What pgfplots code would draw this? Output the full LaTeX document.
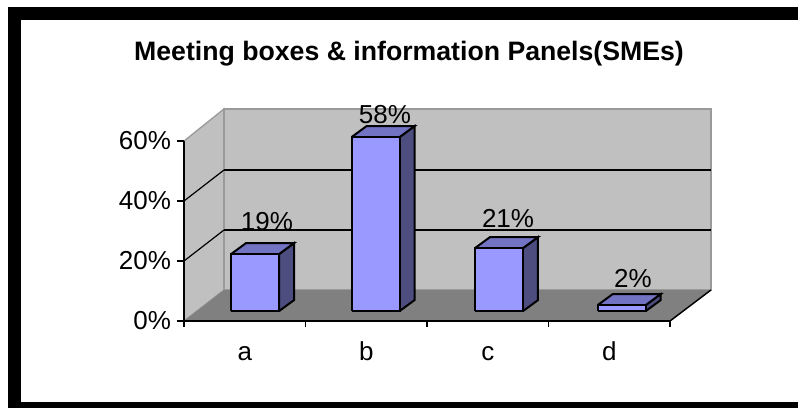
\documentclass[border=0pt]{standalone}
\usepackage{pgfplots}
\pgfplotsset{compat=1.18}
\usepackage{fontspec}
\setmainfont{Liberation Sans}

\definecolor{wallgray}{HTML}{C0C0C0}
\definecolor{wallline}{HTML}{9A9A9A}
\definecolor{floorgray}{HTML}{808080}
\definecolor{barfront}{HTML}{9999FF}
\definecolor{bartop}{HTML}{7373C4}
\definecolor{barside}{HTML}{4D4D80}

% One canvas unit is 0.75pt; x data: 121.5 units per category, y data: 3 units per percent
\def\pxu{0.75pt}

% Column in cabinet projection: left edge of the front face and its value
\newcommand{\threedbar}[2]{%
  \pgfmathsetmacro{\xa}{#1}%
  \pgfmathsetmacro{\xb}{#1+0.395}%
  \pgfmathsetmacro{\xc}{#1+0.395+0.1235}%
  \pgfmathsetmacro{\xd}{#1+0.1235}%
  \pgfmathsetmacro{\ya}{3.3}%
  \pgfmathsetmacro{\yb}{3.3+#2}%
  \pgfmathsetmacro{\yc}{3.3+#2+3.67}%
  \pgfmathsetmacro{\ye}{3.3+3.67}%
  \edef\barfaces{%
    \noexpand\addplot[draw=black,line width=1.5pt,fill=barside,line join=miter] coordinates {(\xb,\ya) (\xb,\yb) (\xc,\yc) (\xc,\ye) (\xb,\ya)};
    \noexpand\addplot[draw=black,line width=1.5pt,fill=bartop,line join=miter] coordinates {(\xa,\yb) (\xb,\yb) (\xc,\yc) (\xd,\yc) (\xa,\yb)};
    \noexpand\addplot[draw=black,line width=1.5pt,fill=barfront,line join=miter] coordinates {(\xa,\ya) (\xb,\ya) (\xb,\yb) (\xa,\yb) (\xa,\ya)};
  }%
  \barfaces
}

\begin{document}
\begin{tikzpicture}[x=\pxu,y=\pxu]
  % Outer margin, black frame and white chart area
  \fill[white] (0,0) rectangle (798,408);
  \fill[black] (8,0) rectangle (798,401);
  \fill[white] (21,6) rectangle (798,388);

  \node[font=\bfseries\fontsize{20}{22}\selectfont] at (409,354) {Meeting boxes \& information Panels(SMEs)};

  \begin{axis}[
    at={(184*\pxu,87*\pxu)}, anchor=south west,
    scale only axis,
    width=486*\pxu, height=180*\pxu,
    xmin=0, xmax=4, ymin=0, ymax=60,
    clip=false,
    axis on top=true,
    axis x line=bottom, axis y line=left,
    axis line style={-,line width=1.3pt,black},
    xtick={0.5,1.5,2.5,3.5},
    xticklabels={a,b,c,d},
    minor xtick={0,1,2,3,4},
    ytick={0,20,40,60},
    yticklabels={0\%,20\%,40\%,60\%},
    tick align=outside,
    major tick length=5.25pt,
    minor tick length=4.5pt,
    major x tick style={draw=none},
    every tick/.append style={line width=1.3pt,black},
    tick label style={font=\fontsize{19.5}{21}\selectfont},
    yticklabel style={xshift=-1pt},
    xticklabel style={yshift=-7pt,text height=14pt,text depth=0pt},
  ]
    % Side wall, back wall and floor
    \addplot[draw=wallline,fill=wallgray,line width=1pt] coordinates {(0,0) (0,60) (0.329,70.67) (0.329,10.33) (0,0)};
    \addplot[draw=wallline,fill=wallgray,line width=1pt] coordinates {(0.329,10.33) (4.337,10.33) (4.337,70.67) (0.329,70.67) (0.329,10.33)};
    \addplot[draw=none,fill=floorgray] coordinates {(0,0) (4,0) (4.337,10.33) (0.329,10.33) (0,0)};
    % Gridlines across both walls
    \addplot[black,line width=1.3pt] coordinates {(0.329,30.33) (4.337,30.33)};
    \addplot[black,line width=1.3pt] coordinates {(0.329,50.33) (4.337,50.33)};
    \addplot[black,line width=0.9pt] coordinates {(0,20) (0.329,30.33)};
    \addplot[black,line width=0.9pt] coordinates {(0,40) (0.329,50.33)};
    % Open edge of the floor on the right
    \addplot[black,line width=1.1pt] coordinates {(4,0) (4.337,10.33)};

    \threedbar{0.387}{19}
    \threedbar{1.379}{58}
    \threedbar{2.395}{21}
    \threedbar{3.405}{2}

    \node[font=\fontsize{19.5}{21}\selectfont] at (axis cs:0.683,33) {19\%};
    \node[font=\fontsize{19.5}{21}\selectfont] at (axis cs:1.654,68.7) {58\%};
    \node[font=\fontsize{19.5}{21}\selectfont] at (axis cs:2.667,34.3) {21\%};
    \node[font=\fontsize{19.5}{21}\selectfont] at (axis cs:3.695,14.3) {2\%};
  \end{axis}
\end{tikzpicture}
\end{document}
